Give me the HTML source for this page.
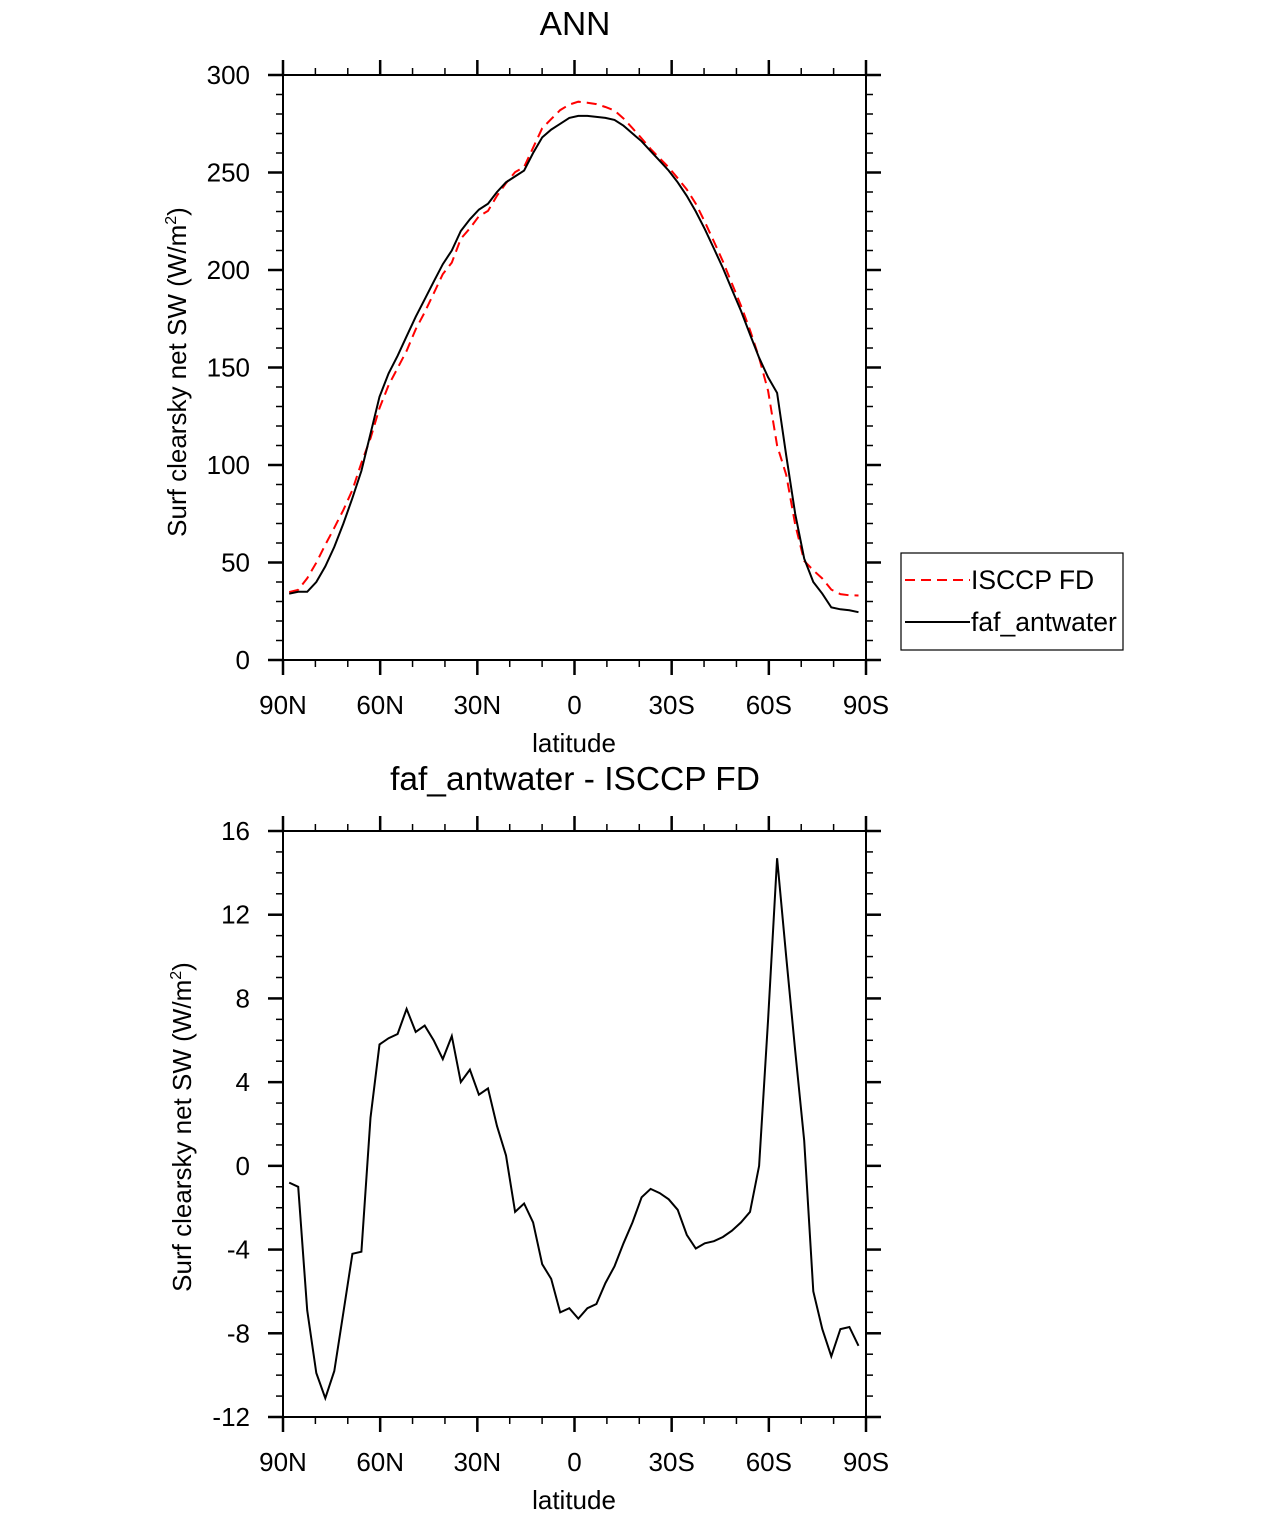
<!DOCTYPE html>
<html><head><meta charset="utf-8"><style>
body{margin:0;background:#fff}
svg text{font-family:"Liberation Sans",Arial,sans-serif;fill:#000}
</style></head><body>
<svg id="chart" width="1285" height="1517" viewBox="0 0 1285 1517" xmlns="http://www.w3.org/2000/svg">
<text x="575" y="35" font-size="33.5" text-anchor="middle">ANN</text>
<text x="575" y="790" font-size="33.5" text-anchor="middle">faf_antwater - ISCCP FD</text>
<text transform="translate(186,372) rotate(-90)" font-size="26" text-anchor="middle">Surf clearsky net SW (W/m<tspan font-size="16" dy="-10">2</tspan><tspan dy="10">)</tspan></text>
<text transform="translate(191,1127) rotate(-90)" font-size="26" text-anchor="middle">Surf clearsky net SW (W/m<tspan font-size="16" dy="-10">2</tspan><tspan dy="10">)</tspan></text>
<text x="574" y="752" font-size="26" text-anchor="middle">latitude</text>
<text x="574" y="1509" font-size="26" text-anchor="middle">latitude</text>
<g>
<rect x="901" y="553" width="222" height="97" fill="#fff" stroke="#000" stroke-width="1.2"/>
<line x1="905" y1="580" x2="970" y2="580" stroke="#f00" stroke-width="2" stroke-dasharray="10,6"/>
<text x="971" y="589" font-size="26.5">ISCCP FD</text>
<line x1="905" y1="622" x2="970" y2="622" stroke="#000" stroke-width="2"/>
<text x="971" y="631" font-size="26.5">faf_antwater</text>
</g>
</svg>
<script>
const modelVals=[34,35,35,40,48,58,70,83,97,116,135,147,156,166,176,185,194,203,210,220,226,231,234,240,245,248,251,260,268,272,275,278,279,279,278.5,278,277,274,270,266,261,256,251,245,238,230,221,211,201,190,179,167,155,145,137,105,75,52,40,34,27,26,25.5,24.5];
const obsVals=[34.8,36,41.9,49.9,59.1,67.8,77,87.2,101.1,113.7,129.2,140.9,149.7,158.5,169.6,178.3,188,197.9,203.8,216,221.4,227.6,230.3,238.1,244.5,250.2,252.8,262.7,272.7,277.4,282,284.8,286.3,285.8,285.1,283.6,281.8,277.7,272.7,267.5,262.1,257.3,252.6,247.1,241.3,234,224.7,214.6,204.4,193.1,181.7,169.2,155,138,110,95,69.5,50.8,46,41.8,36.1,33.8,33.2,33.1];
const diffVals=[-0.8,-1.0,-6.9,-9.9,-11.1,-9.8,-7,-4.2,-4.1,2.3,5.8,6.1,6.3,7.5,6.4,6.7,6.0,5.1,6.2,4.0,4.6,3.4,3.7,1.9,0.5,-2.2,-1.8,-2.7,-4.7,-5.4,-7.0,-6.8,-7.3,-6.8,-6.6,-5.6,-4.8,-3.7,-2.7,-1.5,-1.1,-1.3,-1.6,-2.1,-3.3,-3.95,-3.7,-3.6,-3.4,-3.1,-2.7,-2.2,0,7,14.7,10,5.5,1.2,-6,-7.8,-9.1,-7.8,-7.7,-8.6];
const latStart=88.1, latStep=2.79;
const xTickVals=[90,60,30,0,-30,-60,-90];
const xTickLabels=['90N','60N','30N','0','30S','60S','90S'];
const topYTicks=[0,50,100,150,200,250,300];
const botYTicks=[-12,-8,-4,0,4,8,12,16];
const svg=document.getElementById('chart');
const NS='http://www.w3.org/2000/svg';
function mk(tag,attrs,parent){const e=document.createElementNS(NS,tag);for(const k in attrs)e.setAttribute(k,attrs[k]);(parent||svg).appendChild(e);return e;}
const X0=283,X1=866;
function xs(lat){return X0+(90-lat)/180*(X1-X0);}
function lats(n){const a=[];for(let i=0;i<n;i++)a.push(latStart-i*latStep);return a;}
function panel(name,top,bot,ymin,ymax,yticks,minorStep,series){
  const ys=v=>bot-(v-ymin)/(ymax-ymin)*(bot-top);
  const g=mk('g',{});
  
  
  const fr=mk('rect',{x:X0,y:top,width:X1-X0,height:bot-top,fill:'none',stroke:'#000','stroke-width':2},g);
  
  
  for(let lat=90;lat>=-90;lat-=10){
    const major=lat%30===0, L=major?15:7, x=xs(lat);
    mk('line',{x1:x,x2:x,y1:top,y2:top-L,stroke:'#000','stroke-width':major?2.5:1.5},g);
    mk('line',{x1:x,x2:x,y1:bot,y2:bot+L,stroke:'#000','stroke-width':major?2.5:1.5},g);
  }
  xTickVals.forEach((v,i)=>{const t=mk('text',{x:xs(v),y:bot+54,'font-size':26,'text-anchor':'middle'},g);t.textContent=xTickLabels[i];
    
    });
  for(let v=ymin;v<=ymax+1e-9;v+=minorStep){
    const major=yticks.some(t=>Math.abs(t-v)<1e-9), L=major?15:7, y=ys(v);
    mk('line',{x1:X0,x2:X0-L,y1:y,y2:y,stroke:'#000','stroke-width':major?2.5:1.5},g);
    mk('line',{x1:X1,x2:X1+L,y1:y,y2:y,stroke:'#000','stroke-width':major?2.5:1.5},g);
  }
  yticks.forEach(v=>{const t=mk('text',{x:250,y:ys(v)+9,'font-size':26,'text-anchor':'end'},g);t.textContent=String(v);
    
    });
  series.forEach(s=>{
    const la=lats(s.vals.length);
    const p=mk('polyline',{points:s.vals.map((v,i)=>xs(la[i]).toFixed(1)+','+ys(v).toFixed(1)).join(' '),fill:'none',stroke:s.color,'stroke-width':2,'stroke-dasharray':s.dash||'none'},g);
    
    
  });
}
panel('top',75,660,0,300,topYTicks,10,[{vals:obsVals,color:'#f00',dash:'10,6',name:'isccp-fd-line'},{vals:modelVals,color:'#000',name:'faf-antwater-line'}]);
panel('bottom',831,1417,-12,16,botYTicks,1,[{vals:diffVals,color:'#000',name:'difference-line'}]);
</script>
</body></html>
